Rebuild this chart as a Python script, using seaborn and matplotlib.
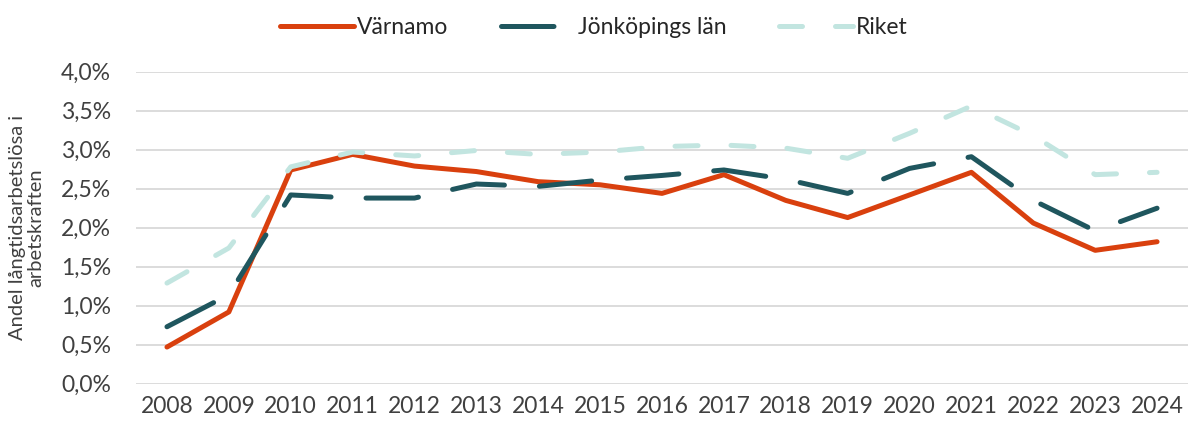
import numpy as np
import pandas as pd
import matplotlib
matplotlib.use("Agg")
import matplotlib.pyplot as plt
import seaborn as sns
from matplotlib.ticker import FuncFormatter

years = list(range(2008, 2025))
varnamo = [0.47, 0.92, 2.74, 2.94, 2.79, 2.72, 2.59, 2.55, 2.44, 2.68,
           2.35, 2.13, 2.42, 2.71, 2.06, 1.71, 1.82]
jonkoping = [0.73, 1.14, 2.42, 2.38, 2.38, 2.56, 2.53, 2.61, 2.67, 2.74,
             2.62, 2.44, 2.76, 2.91, 2.35, 1.96, 2.25]
riket = [1.29, 1.74, 2.78, 2.97, 2.92, 2.99, 2.94, 2.97, 3.04, 3.06,
         3.02, 2.89, 3.21, 3.56, 3.18, 2.68, 2.71]
series_names = ["Värnamo", "Jönköpings län", "Riket"]
colors = ["#D9400E", "#1F565E", "#C2E5E0"]

df = pd.DataFrame({
    "År": years * 3,
    "Andel": varnamo + jonkoping + riket,
    "Område": [n for n in series_names for _ in years],
})

sns.set_theme(style="white")
plt.rcParams['font.family'] = ['Lato', 'DejaVu Sans']
text_color = "#404040"

fig = plt.figure(figsize=(11.88, 4.23), dpi=100)
ax = fig.add_axes([0.1145, 0.0929, 0.8855, 0.7376])

sns.lineplot(data=df, x="År", y="Andel", hue="Område", style="Område",
             palette=dict(zip(series_names, colors)),
             dashes={"Värnamo": "", "Jönköpings län": (10.5, 7),
                     "Riket": (4.6, 6.6)},
             linewidth=3.6, ax=ax, legend=False)
for line in ax.get_lines():
    line.set_solid_capstyle("round")
    line.set_dash_capstyle("round")
    line.set_solid_joinstyle("round")

ax.set_ylim(0, 4.0)
ax.set_yticks(np.arange(0, 4.01, 0.5))
ax.yaxis.set_major_formatter(FuncFormatter(lambda v, _: f"{v:.1f}%".replace(".", ",")))
ax.set_xlim(2007.5, 2024.5)
ax.set_xticks(years)
ax.grid(axis="y", color="#D9D9D9", linewidth=1.3)
ax.set_axisbelow(True)
for s in ax.spines.values():
    s.set_visible(False)
ax.tick_params(axis="both", length=0, labelsize=16.5, labelcolor=text_color)
ax.tick_params(axis="y", pad=18)
ax.tick_params(axis="x", pad=9)
ax.set_xlabel("")
ax.set_ylabel("Andel långtidsarbetslösa i\narbetskraften", fontsize=14.5,
              color=text_color, labelpad=12, linespacing=1.1)

handles = []
for name, c, ls in zip(series_names, colors, ["-", (0, (10.5, 7)), (0, (4.6, 6.6))]):
    h, = ax.plot([], [], color=c, linewidth=3.6, linestyle=ls,
                 solid_capstyle="round", dash_capstyle="round")
    handles.append(h)
leg = fig.legend(handles, series_names, loc="center", bbox_to_anchor=(0.5, 0.935),
                 ncol=3, frameon=False, fontsize=16.5, handlelength=3.2,
                 handletextpad=0.15, columnspacing=2.3)
for t in leg.get_texts():
    t.set_color("#262626")

fig.savefig("out.png", dpi=100)
